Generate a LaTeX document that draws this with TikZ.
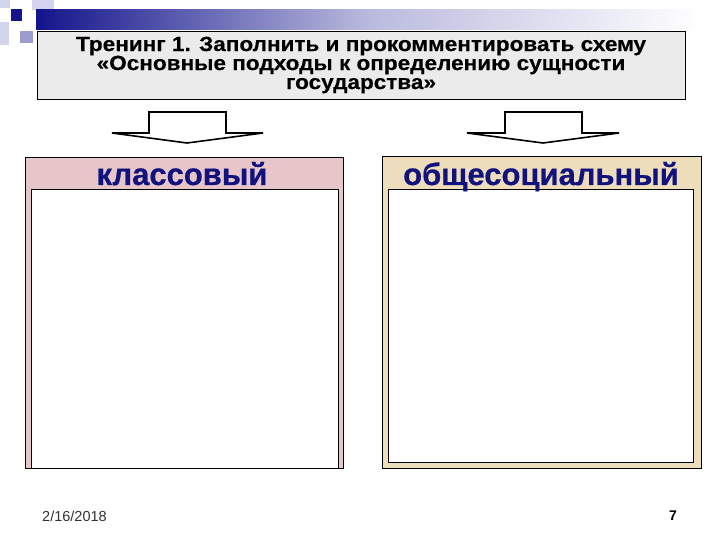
\documentclass[tikz,border=0pt]{standalone}
\usepackage{fontspec}
\setmainfont{Liberation Sans}
\newfontfamily\titlefont[FakeStretch=1.1, FakeBold=0.3]{Liberation Sans Bold}
\newfontfamily\headfont[FakeBold=0.6]{Liberation Sans Bold}
\definecolor{navy}{HTML}{14148C}
\definecolor{lav}{HTML}{9C9CD0}
\definecolor{lavlight}{HTML}{D4D4EE}
\definecolor{titlegray}{HTML}{EBEBEB}
\definecolor{pinkfill}{HTML}{E6C6C8}
\definecolor{beigefill}{HTML}{EEDDBA}
\definecolor{headblue}{HTML}{12127E}
\definecolor{footgray}{HTML}{333333}
\tikzset{
  panel/.style={draw=black, line width=0.9pt, inner sep=0pt, rectangle},
  innerbox/.style={draw=black, fill=white, line width=1pt, inner sep=0pt, rectangle},
  headtxt/.style={text=headblue, font=\fontsize{31}{31}\headfont, inner sep=0pt, anchor=base},
  blockarrow/.style={draw=black, fill=white, line width=1.6pt, line join=miter},
}
\begin{document}
\begin{tikzpicture}[x=1pt,y=-1pt]
\useasboundingbox (0,0) rectangle (720,540);
\fill[white] (0,0) rectangle (720,540);
% decoration squares
\fill[lavlight] (0,0) rectangle (10,8);
\fill[lavlight] (32,0) rectangle (54,10);
\fill[lavlight] (0,22) rectangle (9,45);
\fill[lav] (20,31) rectangle (33,43);
\fill[navy] (11,9) rectangle (22,21);
% gradient bar
\shade[left color=navy, right color=white, middle color=lav!70!white] (36,10) rectangle (700,30);
\fill[navy] (36,10) rectangle (42,30);
% title box
\node[panel, fill=titlegray, minimum width=648pt, minimum height=68pt] (title) at (361,65.5) {};
\node[font=\fontsize{20.5}{19}\titlefont, align=center, inner sep=0pt] (titletxt) at (361,65)
  {Тренинг 1. Заполнить и прокомментировать схему\\
   «Основные подходы к определению сущности\\
   государства»};
% block arrows
\draw[blockarrow] (149,112) -- (226,112) -- (226,133) -- (263,133) -- (187,143) -- (112,133) -- (149,133) -- cycle;
\draw[blockarrow] (505,112) -- (582,112) -- (582,133) -- (619,133) -- (543,143) -- (467,133) -- (505,133) -- cycle;
% left panel
\node[panel, fill=pinkfill, minimum width=318pt, minimum height=311pt] (left) at (184,312.5) {};
\node[innerbox, minimum width=307pt, minimum height=278pt] (leftin) at (184.5,329) {};
\node[headtxt] (lefthead) at (182,185) {классовый};
% right panel
\node[panel, fill=beigefill, minimum width=319pt, minimum height=312pt] (right) at (541.5,312) {};
\node[innerbox, minimum width=305pt, minimum height=272pt] (rightin) at (540.5,326) {};
\node[headtxt] (righthead) at (541,185) {общесоциальный};
% footer
\node[text=footgray, font=\fontsize{14.5}{14.5}\selectfont, anchor=base west, inner sep=0pt] (date) at (42,521) {2/16/2018};
\node[text=black, font=\fontsize{14}{14}\selectfont\bfseries, anchor=base, inner sep=0pt] (page) at (673,520) {7};
\end{tikzpicture}
\end{document}
